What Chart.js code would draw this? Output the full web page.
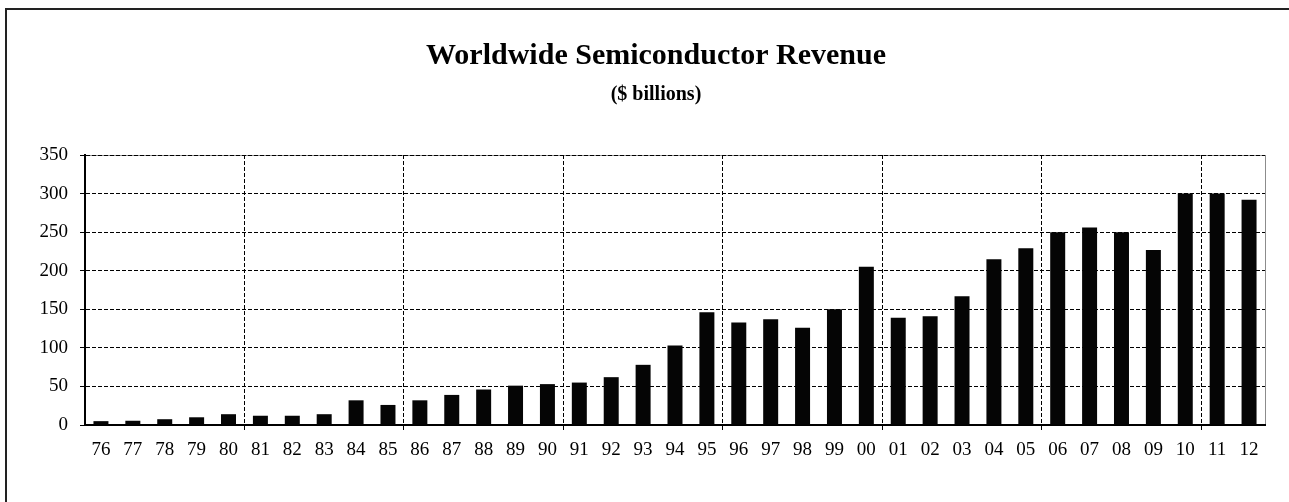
<!DOCTYPE html>
<html><head><meta charset="utf-8">
<script src="https://cdn.jsdelivr.net/npm/chart.js@4.4.0/dist/chart.umd.min.js"></script>
<style>html,body{margin:0;padding:0;background:#fff;overflow:hidden}canvas{display:block}</style>
</head><body>
<canvas id="c" width="1289" height="502"></canvas>
<script>
const categories = ['76','77','78','79','80','81','82','83','84','85','86','87','88','89','90','91','92','93','94','95','96','97','98','99','00','01','02','03','04','05','06','07','08','09','10','11','12'];
const revenue = [5,5.5,7.5,10,14,12,12,14,32,26,32,39,46,51,53,55,62,78,103,146,133,137,126,150,205,139,141,167,215,229,250,256,250,227,300,300,292];
const yTicks = [0,50,100,150,200,250,300,350];
const titleText = 'Worldwide Semiconductor Revenue';
const subtitleText = '($ billions)';

const serif = "'Liberation Serif','Times New Roman',serif";

const framePlugin = {
  id: 'frame',
  afterLayout(chart) {
    const y = chart.scales.y;
    y.left = 0;
    y.width = y.right - y.left;
  },
  beforeDraw(chart) {
    const c = chart.ctx, a = chart.chartArea;
    c.save();
    c.fillStyle = '#fff';
    c.fillRect(0, 0, chart.width, chart.height);
    c.fillStyle = '#222';
    c.fillRect(5, 8, chart.width - 5, 2);
    c.fillRect(5, 8, 2, chart.height - 8);
    c.strokeStyle = '#8c8c8c';
    c.lineWidth = 1;
    c.strokeRect(a.left + 0.5, a.top + 0.5, a.right - a.left, a.bottom - a.top);
    c.restore();
  }
};

new Chart(document.getElementById('c'), {
  type: 'bar',
  data: {
    labels: categories,
    datasets: [{
      data: revenue,
      backgroundColor: '#050505',
      borderWidth: 0,
      barPercentage: 0.47,
      categoryPercentage: 1.0
    }]
  },
  options: {
    responsive: false,
    animation: false,
    layout: { padding: { left: 47, right: 24, top: 0, bottom: 0 } },
    plugins: {
      legend: { display: false },
      tooltip: { enabled: false },
      title: {
        display: true, text: titleText, color: '#000',
        font: { family: serif, size: 30, weight: 'bold' },
        padding: { top: 38, bottom: 0 }
      },
      subtitle: {
        display: true, text: subtitleText, color: '#000',
        font: { family: serif, size: 20, weight: 'bold' },
        padding: { top: 9, bottom: 48 }
      }
    },
    scales: {
      x: {
        offset: true,
        afterFit(s) { s.height = 77; },
        grid: {
          offset: true,
          drawOnChartArea: true,
          color: (ctx) => (ctx.index > 0 && ctx.index < categories.length && ctx.index % 5 === 0) ? '#000' : 'rgba(0,0,0,0)',
          tickColor: (ctx) => (ctx.index > 0 && ctx.index < categories.length && ctx.index % 5 === 0) ? '#000' : 'rgba(0,0,0,0)',
          lineWidth: 1,
          tickLength: 5,
          tickBorderDash: []
        },
        border: { display: true, color: '#000', width: 2, dash: [4, 2] },
        ticks: {
          color: '#000', padding: 9, maxRotation: 0, autoSkip: false,
          font: { family: serif, size: 19 }
        }
      },
      y: {
        min: 0, max: 350,
        afterFit(s) { s.width = 38; },
        afterBuildTicks(s) { s.ticks = yTicks.map(v => ({ value: v })); },
        grid: {
          color: (ctx) => (ctx.tick && ctx.tick.value === 0) ? 'rgba(0,0,0,0)' : '#000',
          tickColor: '#000',
          lineWidth: 1,
          tickLength: 5,
          tickBorderDash: []
        },
        border: { display: true, color: '#000', width: 2, dash: [4, 2] },
        ticks: {
          color: '#000', padding: 12,
          font: { family: serif, size: 19 }
        }
      }
    }
  },
  plugins: [framePlugin]
});
</script>
</body></html>
